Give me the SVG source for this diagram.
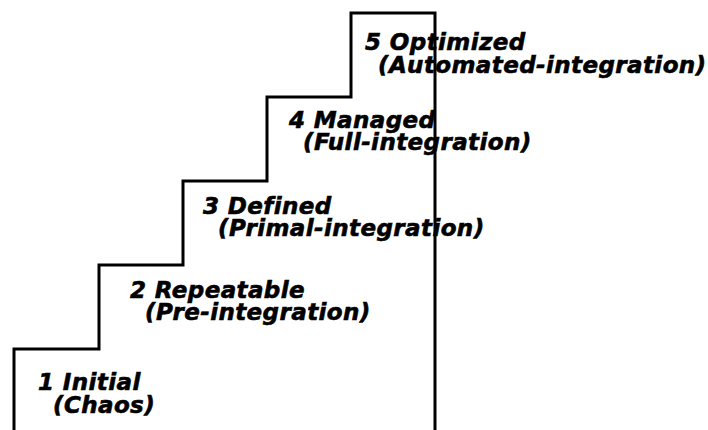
<svg xmlns="http://www.w3.org/2000/svg" width="708" height="430" viewBox="0 0 708 430">
<style>
.lbl{font-family:"DejaVu Sans","Liberation Sans",sans-serif;font-weight:bold;font-style:italic;font-size:23px;letter-spacing:0.4px;fill:#000;stroke:#000;stroke-width:0.6px}
.stair{fill:none;stroke:#000;stroke-width:3;stroke-linejoin:miter}
</style>
<rect width="708" height="430" fill="#fff"/>
<g id="staircase">
<polyline class="stair" points="14,432 14,349 99,349 99,265 183,265 183,181 267,181 267,97 351,97 351,13 435,13 435,432"/>
</g>
<g id="level1">
<text class="lbl" x="38" y="390">1 Initial</text>
<text class="lbl" x="53" y="413">(Chaos)</text>
</g>
<g id="level2">
<text class="lbl" x="130" y="298">2 Repeatable</text>
<text class="lbl" x="145" y="320">(Pre-integration)</text>
</g>
<g id="level3">
<text class="lbl" x="203" y="214">3 Defined</text>
<text class="lbl" x="218" y="236">(Primal-integration)</text>
</g>
<g id="level4">
<text class="lbl" x="289" y="128">4 Managed</text>
<text class="lbl" x="303" y="150">(Full-integration)</text>
</g>
<g id="level5">
<text class="lbl" x="365" y="50">5 Optimized</text>
<text class="lbl" x="378" y="73">(Automated-integration)</text>
</g>
</svg>
